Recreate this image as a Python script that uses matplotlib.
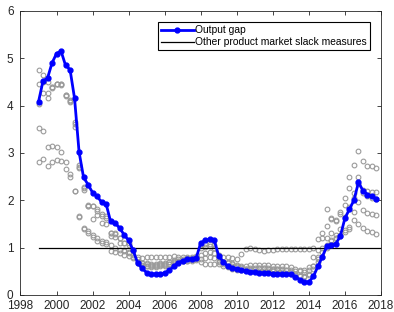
import numpy as np
import matplotlib
matplotlib.use("Agg")
import matplotlib.pyplot as plt

plt.rcParams['font.family'] = ['Liberation Sans', 'DejaVu Sans']

# quarterly dates 1999Q1 .. 2017Q4
quarters = np.arange(1999, 2018, 0.25)

output_gap = [
    4.08, 4.52, 4.58, 4.90,
    5.10, 5.15, 4.85, 4.76,
    4.15, 3.02, 2.48, 2.33,
    2.16, 2.08, 1.96, 1.92,
    1.55, 1.52, 1.41, 1.27,
    1.15, 0.94, 0.67, 0.56,
    0.47, 0.44, 0.44, 0.45,
    0.46, 0.52, 0.60, 0.68,
    0.72, 0.75, 0.76, 0.78,
    1.10, 1.15, 1.17, 1.15,
    0.82, 0.70, 0.60, 0.56,
    0.55, 0.53, 0.50, 0.49,
    0.48, 0.47, 0.46, 0.46,
    0.45, 0.45, 0.44, 0.44,
    0.43, 0.38, 0.32, 0.27,
    0.27, 0.39, 0.60, 0.81,
    1.03, 1.05, 1.08, 1.25,
    1.62, 1.81, 2.00, 2.38,
    2.20, 2.12, 2.08, 2.02,
]

# other slack measures (grey circles)
slack_1 = [
    4.75, 4.65, 4.50, 4.40,
    4.46, 4.45, 4.22, 4.12,
    3.65, 2.75, 2.28, 1.90,
    1.88, 1.81, 1.70, 1.66,
    1.30, 1.28, 1.20, 1.10,
    1.05, 0.95, 0.80, 0.78,
    0.79, 0.79, 0.80, 0.80,
    0.80, 0.79, 0.82, 0.80,
    0.80, 0.80, 0.80, 0.82,
    1.05, 1.07, 1.07, 1.05,
    0.85, 0.80, 0.80, 0.78,
    0.75, 0.86, 0.97, 0.98,
    0.97, 0.95, 0.93, 0.94,
    0.95, 0.96, 0.96, 0.97,
    0.97, 0.97, 0.96, 0.97,
    0.97, 0.98, 1.18, 1.30,
    1.82, 1.62, 1.55, 1.75,
    1.90, 2.25, 2.75, 3.05,
    2.83, 2.73, 2.72, 2.68,
]
slack_2 = [
    4.45, 4.50, 4.27, 4.38,
    4.45, 4.44, 4.20, 4.08,
    3.55, 2.68, 2.22, 1.88,
    1.60, 1.68, 1.52, 1.49,
    1.30, 1.30, 1.20, 1.09,
    1.09, 0.92, 0.75, 0.68,
    0.65, 0.63, 0.62, 0.63,
    0.64, 0.66, 0.70, 0.72,
    0.74, 0.75, 0.76, 0.78,
    1.00, 1.02, 1.03, 0.98,
    0.78, 0.70, 0.68, 0.66,
    0.64, 0.62, 0.62, 0.63,
    0.63, 0.64, 0.64, 0.63,
    0.62, 0.62, 0.61, 0.60,
    0.58, 0.55, 0.52, 0.53,
    0.58, 0.80, 0.95, 1.20,
    1.45, 1.60, 1.58, 1.70,
    2.04, 2.48, 2.15, 2.49,
    2.22, 2.20, 2.18, 2.17,
]
slack_3 = [
    4.03, 4.27, 4.15, 4.40,
    4.46, 4.45, 4.22, 4.10,
    3.60, 2.70, 2.25, 1.88,
    1.88, 1.78, 1.66, 1.62,
    1.25, 1.22, 1.10, 0.95,
    0.90, 0.85, 0.70, 0.62,
    0.60, 0.58, 0.58, 0.60,
    0.62, 0.65, 0.68, 0.70,
    0.72, 0.72, 0.73, 0.75,
    0.85, 0.88, 0.90, 0.88,
    0.70, 0.62, 0.58, 0.55,
    0.52, 0.52, 0.55, 0.56,
    0.57, 0.57, 0.57, 0.56,
    0.55, 0.54, 0.53, 0.52,
    0.48, 0.45, 0.40, 0.38,
    0.45, 0.62, 0.80, 1.00,
    1.20, 1.30, 1.27, 1.40,
    1.65, 1.85, 2.05, 2.35,
    2.15, 2.08, 2.05, 2.03,
]
slack_4 = [
    3.52, 3.47, 3.13, 3.15,
    3.13, 3.02, 2.80, 2.55,
    2.20, 1.67, 1.41, 1.34,
    1.27, 1.20, 1.13, 1.12,
    1.05, 1.00, 0.95, 0.92,
    0.88, 0.80, 0.68, 0.63,
    0.62, 0.62, 0.63, 0.65,
    0.66, 0.70, 0.74, 0.75,
    0.76, 0.77, 0.78, 0.78,
    0.75, 0.78, 0.80, 0.78,
    0.72, 0.70, 0.69, 0.68,
    0.62, 0.58, 0.55, 0.52,
    0.50, 0.50, 0.50, 0.50,
    0.50, 0.49, 0.48, 0.47,
    0.45, 0.42, 0.40, 0.40,
    0.42, 0.55, 0.70, 0.80,
    1.00, 1.13, 1.20, 1.27,
    1.37, 1.39, 1.76, 1.97,
    1.80, 1.74, 1.71, 1.69,
]
slack_5 = [
    2.80, 2.87, 2.72, 2.80,
    2.85, 2.83, 2.65, 2.50,
    2.20, 1.65, 1.40, 1.30,
    1.22, 1.13, 1.10, 1.08,
    0.92, 0.90, 0.88, 0.85,
    0.82, 0.78, 0.70, 0.68,
    0.67, 0.66, 0.66, 0.67,
    0.68, 0.70, 0.72, 0.72,
    0.72, 0.72, 0.72, 0.73,
    0.70, 0.66, 0.65, 0.65,
    0.66, 0.65, 0.62, 0.60,
    0.58, 0.56, 0.55, 0.55,
    0.55, 0.56, 0.56, 0.55,
    0.55, 0.55, 0.54, 0.53,
    0.52, 0.50, 0.50, 0.49,
    0.52, 0.60, 0.75, 0.90,
    1.05, 1.15, 1.20, 1.25,
    1.33, 1.44, 1.59, 1.50,
    1.41, 1.34, 1.32, 1.29,
]
slack_series = [slack_1, slack_2, slack_3, slack_4, slack_5]

ref_x = [1999, 2018]
ref_y = [1, 1]

fig = plt.figure(figsize=(3.94, 3.12), dpi=100)
ax = fig.add_axes([0.052, 0.055, 0.915, 0.91])

for s in slack_series:
    ax.plot(quarters, s, linestyle="none", marker="o", markersize=3.4,
            markerfacecolor="none", markeredgecolor="#9a9a9a", markeredgewidth=0.8)

ax.plot(quarters, output_gap, color="#0000ff", linewidth=2.0, marker="o",
        markersize=3.5, label="Output gap", zorder=3)
ax.plot(ref_x, ref_y, color="black", linewidth=0.9,
        label="Other product market slack measures", zorder=2)

ax.set_xlim(1998, 2018)
ax.set_ylim(0, 6)
ax.set_xticks(range(1998, 2019, 2))
ax.set_yticks(range(0, 7))
ax.tick_params(direction="in", top=True, right=True, labelsize=8.5,
               length=3, width=0.6, colors="#262626")
ax.tick_params(axis="x", pad=4)
ax.tick_params(axis="y", pad=5)
for sp in ax.spines.values():
    sp.set_linewidth(0.6)
    sp.set_color("#262626")

leg = ax.legend(loc="upper right", bbox_to_anchor=(0.97, 0.96), fontsize=7.4,
                frameon=True, fancybox=False, framealpha=1, edgecolor="black",
                borderpad=0.3, handlelength=3.2, handletextpad=0.15,
                labelspacing=0.2, borderaxespad=0)
leg.get_frame().set_linewidth(0.8)

fig.savefig("out.png", dpi=100)
